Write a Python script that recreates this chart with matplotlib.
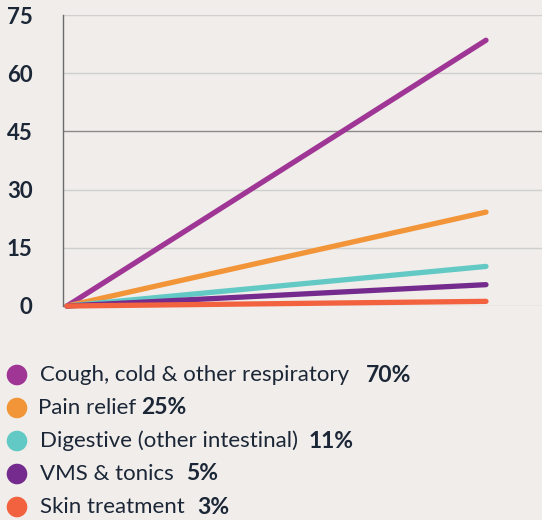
import matplotlib
matplotlib.use('Agg')
import matplotlib.pyplot as plt

plt.rcParams['font.family'] = ['Lato', 'DejaVu Sans']

# data
categories = ['Cough, cold & other respiratory', 'Pain relief', 'Digestive (other intestinal)',
              'VMS & tonics', 'Skin treatment']
percent_labels = ['70%', '25%', '11%', '5%', '3%']
start_values = [0, 0, 0, 0, 0]
end_values = [68.5, 24.2, 10.2, 5.5, 1.2]
colors = ['#9f3594', '#f29539', '#63c9c4', '#752b8d', '#f2623f']
yticks = [0, 15, 30, 45, 60, 75]
text_gaps = [17, 5, 11, 12, 12]

bg = '#f0edea'
navy = '#1b2636'

W, H = 542, 520
fig = plt.figure(figsize=(W / 100, H / 100), dpi=100, facecolor=bg)

# plot area in pixels: left 63, right 542, top 15, bottom 306
ax = fig.add_axes([63 / W, 1 - 306 / H, (542 - 63) / W, (306 - 15) / H])
ax.set_facecolor(bg)

px = 419.0  # px per unit on x
ax.set_xlim(-4 / px, (542 - 67) / px)
ax.set_ylim(0, 75)

for y in yticks:
    c = '#8a8a8a' if y == 45 else '#cfcfcf'
    ax.axhline(y, color=c, lw=1.0, zorder=1)

for s, e, c in zip(start_values, end_values, colors):
    ax.plot([0, 1], [s, e], color=c, lw=3.8, solid_capstyle='round', zorder=3, clip_on=False)

for sp in ['top', 'right', 'bottom']:
    ax.spines[sp].set_visible(False)
ax.spines['left'].set_color('#6b6b6b')
ax.spines['left'].set_linewidth(1.0)
ax.set_xticks([])
ax.set_yticks(yticks)
ax.set_yticklabels([str(t) for t in yticks], fontsize=16, fontweight='bold', color=navy)
ax.tick_params(axis='y', length=0, pad=22)

# legend drawn in pixel coordinates
lg = fig.add_axes([0, 0, 1, 1])
lg.set_xlim(0, W)
lg.set_ylim(H, 0)
lg.axis('off')
lg.patch.set_alpha(0)

row_y = [375, 408, 441, 474, 507]
text_x = [40, 38, 40, 40, 40]
fig.canvas.draw()
renderer = fig.canvas.get_renderer()
for i in range(len(categories)):
    lg.scatter([17], [row_y[i]], s=220, color=colors[i], edgecolors='none')
    t = lg.text(text_x[i], row_y[i], categories[i], fontsize=16, color=navy,
                va='center', ha='left')
    bb = t.get_window_extent(renderer=renderer)
    x_end = bb.x1 / fig.dpi * 100
    lg.text(x_end + text_gaps[i], row_y[i], percent_labels[i], fontsize=16.5,
            fontweight='bold', color=navy, va='center', ha='left')

fig.savefig('out.png', dpi=100, facecolor=bg)
